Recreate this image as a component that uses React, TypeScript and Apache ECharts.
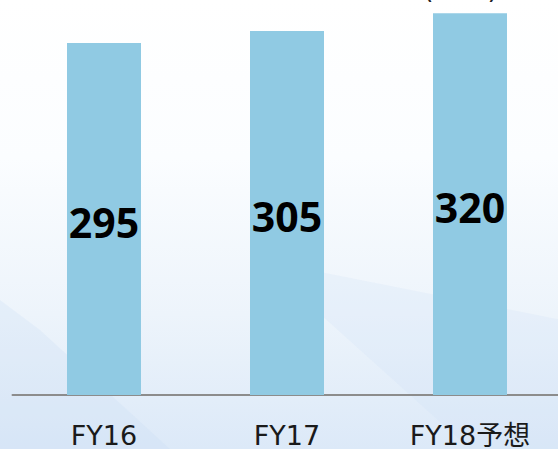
import React, { useEffect, useRef } from "react";
import * as echarts from "echarts";

const categories = ["FY16", "FY17", "FY18予想"];
const values = [295, 305, 320];
const unitLabel = "(億円)";

export default function App() {
  const ref = useRef<HTMLDivElement>(null);
  useEffect(() => {
    if (!ref.current) return;
    const chart = echarts.init(ref.current, null, { renderer: "svg" });
    chart.setOption({
      animation: false,
      backgroundColor: {
        type: "linear",
        x: 0, y: 0, x2: 0, y2: 1,
        colorStops: [
          { offset: 0, color: "#ffffff" },
          { offset: 0.35, color: "#fbfdff" },
          { offset: 0.7, color: "#edf4fb" },
          { offset: 1, color: "#dce9f8" },
        ],
      },
      graphic: [
        {
          type: "polygon",
          z: -10,
          silent: true,
          shape: { points: [[0, 300], [40, 330], [170, 449], [0, 449]] },
          style: { fill: "rgba(200,220,242,0.25)" },
        },
        {
          type: "polygon",
          z: -10,
          silent: true,
          shape: { points: [[260, 260], [562, 320], [562, 449], [470, 449]] },
          style: { fill: "rgba(205,224,245,0.22)" },
        },
        {
          type: "text",
          left: 423,
          top: -25,
          style: {
            text: unitLabel,
            font: "27px 'DejaVu Sans', 'Noto Sans CJK JP'",
            fill: "#222",
          },
        },
      ],
      grid: { left: 12.5, right: 0.5, top: 0, bottom: 54 },
      xAxis: {
        type: "category",
        data: categories,
        axisLine: { show: true, lineStyle: { color: "#8c8c8c", width: 2 } },
        axisTick: { show: false },
        axisLabel: {
          color: "#1a1a1a",
          fontSize: 27,
          fontFamily: "'DejaVu Sans', 'Noto Sans CJK JP'",
          margin: 27,
        },
      },
      yAxis: {
        type: "value",
        min: 0,
        max: 331,
        show: false,
        splitLine: { show: false },
      },
      series: [
        {
          type: "bar",
          data: values,
          barWidth: 74,
          itemStyle: { color: "#90cae3" },
          label: {
            show: true,
            position: "inside",
            offset: [0, 3],
            color: "#000",
            fontSize: 41,
            fontWeight: "bold",
            fontFamily: "'Noto Sans', sans-serif",
          },
        },
      ],
    });
    return () => chart.dispose();
  }, []);
  return (
    <div
      ref={ref}
      style={{ position: "fixed", left: 0, top: 0, width: 562, height: 449 }}
    />
  );
}
